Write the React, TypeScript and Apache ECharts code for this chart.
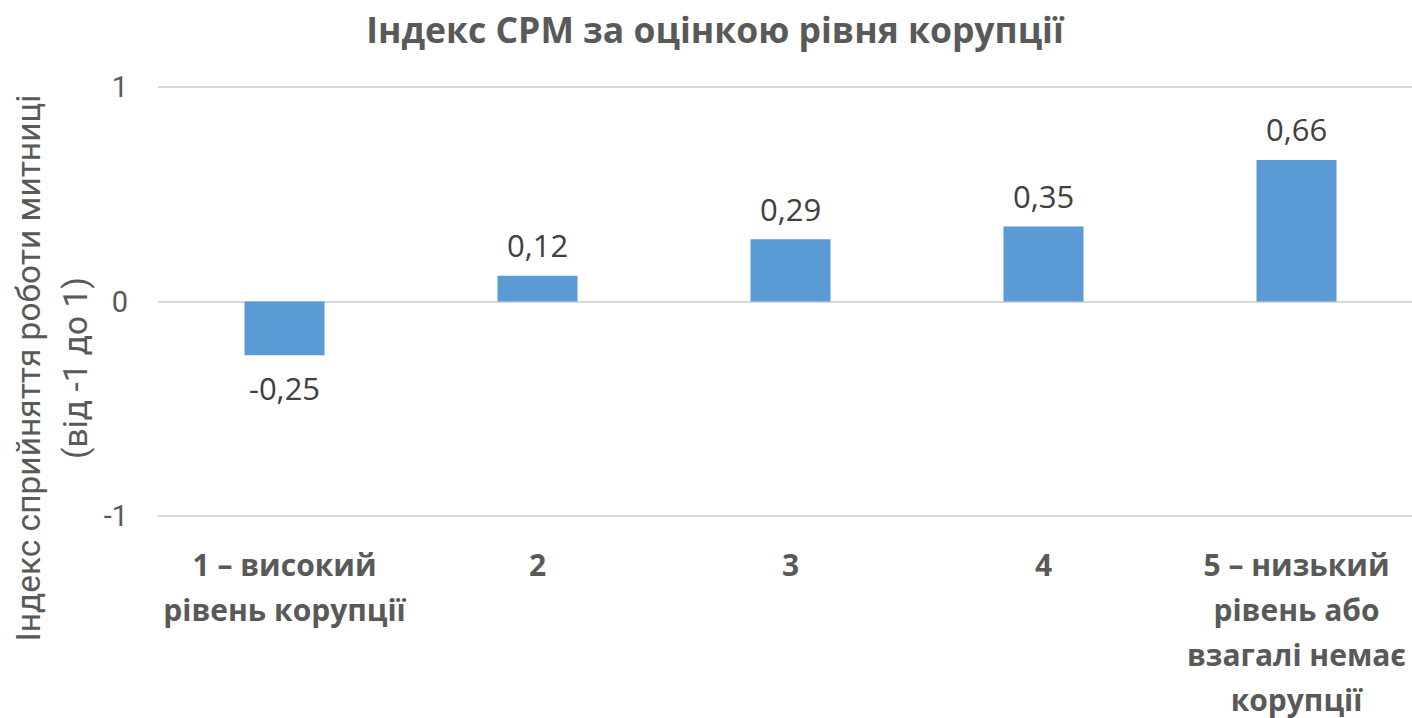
import React, { useEffect, useRef } from "react";
import * as echarts from "echarts";

const title = "Індекс CPM за оцінкою рівня корупції";
const yAxisTitle = "Індекс сприйняття роботи митниці\n(від -1 до 1)";
const categories = [
  "1 – високий\nрівень корупції",
  "2",
  "3",
  "4",
  "5 – низький\nрівень або\nвзагалі немає\nкорупції",
];
const values = [-0.25, 0.12, 0.29, 0.35, 0.66];
const yMin = -1;
const yMax = 1;
const yInterval = 1;

const fmt = (v: number) => v.toFixed(2).replace(".", ",");

export default function App() {
  const ref = useRef<HTMLDivElement>(null);
  useEffect(() => {
    if (!ref.current) return;
    const chart = echarts.init(ref.current, null, { renderer: "svg" });
    chart.setOption({
      animation: false,
      backgroundColor: "#ffffff",
      title: {
        text: title,
        left: 710,
        top: 6,
        textAlign: "center",
        textStyle: {
          fontFamily: "Open Sans",
          fontWeight: "bold",
          fontSize: 35.5,
          color: "#595959",
        },
      },
      graphic: [
        {
          type: "text",
          x: 52,
          y: 368,
          rotation: Math.PI / 2,
          style: {
            text: yAxisTitle,
            font: "33.5px Roboto",
            fill: "#595959",
            textAlign: "center",
            textVerticalAlign: "middle",
            lineHeight: 47,
          },
        },
      ],
      grid: {
        left: 158,
        right: -11,
        top: 87,
        bottom: 718 - 516,
        outerBoundsMode: "none",
        containLabel: false,
      },
      xAxis: {
        type: "category",
        data: categories,
        axisLine: { show: false, onZero: false },
        axisTick: { show: false },
        axisLabel: {
          interval: 0,
          margin: 26,
          fontFamily: "Open Sans",
          fontWeight: "bold",
          fontSize: 30,
          lineHeight: 45,
          color: "#595959",
          align: "center",
          verticalAlign: "top",
        },
      },
      yAxis: {
        type: "value",
        min: yMin,
        max: yMax,
        interval: yInterval,
        axisLine: { show: false },
        axisTick: { show: false },
        axisLabel: {
          margin: 30,
          fontFamily: "Roboto",
          fontSize: 29,
          color: "#595959",
        },
        splitLine: { lineStyle: { color: "#d9d9d9", width: 2 } },
      },
      series: [
        {
          type: "bar",
          data: values.map((v) => ({
            value: v,
            label: {
              position: v < 0 ? "bottom" : "top",
              distance: v < 0 ? 17 : 15,
            },
          })),
          barWidth: 80,
          itemStyle: { color: "#5b9bd5" },
          label: {
            show: true,
            formatter: (p: any) => fmt(p.value),
            fontFamily: "Open Sans",
            fontSize: 31,
            color: "#404040",
          },
        },
      ],
    });
    return () => chart.dispose();
  }, []);
  return (
    <div
      ref={ref}
      style={{
        position: "absolute",
        left: 0,
        top: 0,
        width: 1412,
        height: 718,
        overflow: "hidden",
      }}
    />
  );
}
